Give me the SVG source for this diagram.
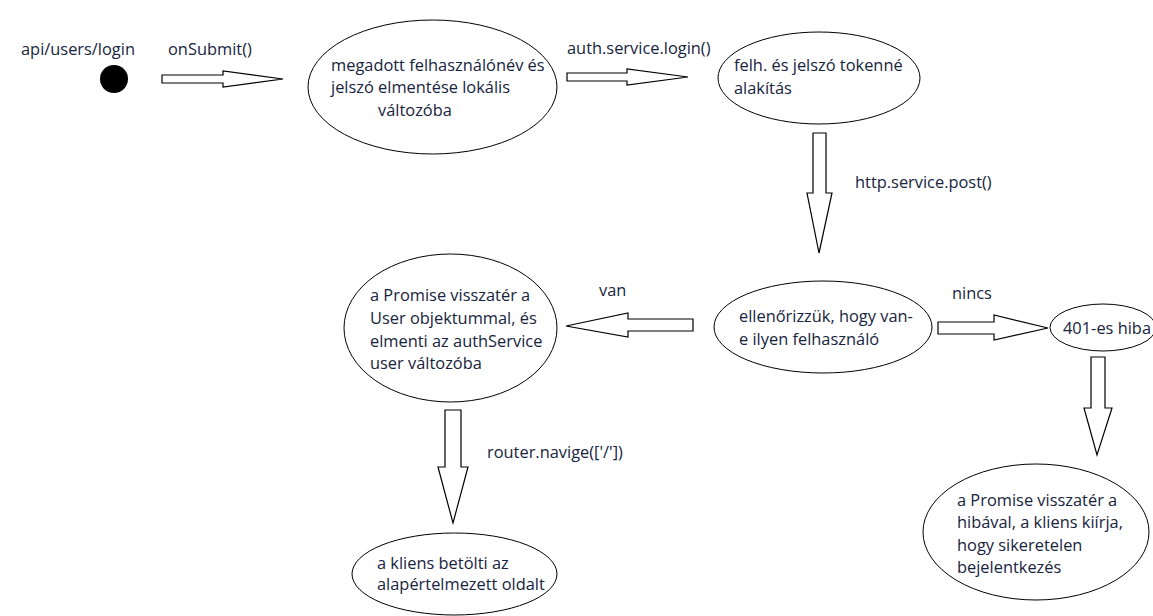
<svg xmlns="http://www.w3.org/2000/svg" width="1153" height="616" viewBox="0 0 1153 616">
<style>
text{font-family:"Open Sans","Noto Sans","Liberation Sans",sans-serif;font-size:16.4px;fill:#17243d}
.node ellipse{fill:#fff;stroke:#000;stroke-width:1}
.arrow{fill:#fff;stroke:#000;stroke-width:1.2;stroke-linejoin:miter}
</style>
<rect width="1153" height="616" fill="#fff"/>
<g id="start">
<text x="21" y="55">api/users/login</text>
<circle cx="114" cy="79" r="14" fill="#000"/>
</g>
<g id="n1" class="node">
<ellipse cx="432.5" cy="87" rx="124.5" ry="67"/>
<text x="331" y="71">megadott felhasználónév és</text>
<text x="331" y="93">jelszó elmentése lokális</text>
<text x="378" y="116">változóba</text>
</g>
<g id="n2" class="node">
<ellipse cx="819" cy="78" rx="101" ry="46"/>
<text x="734" y="71">felh. és jelszó tokenné</text>
<text x="734" y="94">alakítás</text>
</g>
<g id="n3" class="node">
<ellipse cx="823" cy="327" rx="109" ry="46"/>
<text x="739" y="322">ellenőrizzük, hogy van-</text>
<text x="739" y="345">e ilyen felhasználó</text>
</g>
<g id="n4" class="node">
<ellipse cx="1103" cy="327.5" rx="53" ry="23.5"/>
<text x="1063" y="334">401-es hiba</text>
</g>
<g id="n5" class="node">
<ellipse cx="450.5" cy="328" rx="106.5" ry="74"/>
<text x="370" y="301">a Promise visszatér a</text>
<text x="370" y="324">User objektummal, és</text>
<text x="370" y="347">elmenti az authService</text>
<text x="370" y="369">user változóba</text>
</g>
<g id="n6" class="node">
<ellipse cx="454.5" cy="574" rx="102.5" ry="41"/>
<text x="377" y="569">a kliens betölti az</text>
<text x="377" y="590">alapértelmezett oldalt</text>
</g>
<g id="n7" class="node">
<ellipse cx="1036" cy="532" rx="113" ry="68"/>
<text x="957" y="506">a Promise visszatér a</text>
<text x="957" y="528">hibával, a kliens kiírja,</text>
<text x="957" y="551">hogy sikeretelen</text>
<text x="957" y="573">bejelentkezés</text>
</g>
<g id="connectors">
<polygon class="arrow" points="162,75 223,75 223,71 283,79 223,87 223,83 162,83"/>
<text x="168" y="55">onSubmit()</text>
<polygon class="arrow" points="567,73 627,73 627,69 688,77 627,85 627,81 567,81"/>
<text x="567" y="54">auth.service.login()</text>
<polygon class="arrow" points="813,133 826,133 826,193 832,193 819,253 807,193 813,193"/>
<text x="855" y="188">http.service.post()</text>
<polygon class="arrow" points="693,319 628,319 628,313 566,326 628,337 628,331 693,331"/>
<text x="599" y="296">van</text>
<polygon class="arrow" points="938,322 994,322 994,315 1048,328 994,340 994,334 938,334"/>
<text x="952" y="299">nincs</text>
<polygon class="arrow" points="1091,357 1105,357 1105,408 1112,408 1097,455 1084,408 1091,408"/>
<polygon class="arrow" points="445,410 461,410 461,467 468,467 453,523 438,467 445,467"/>
<text x="487" y="458">router.navige(['/'])</text>
</g>
</svg>
